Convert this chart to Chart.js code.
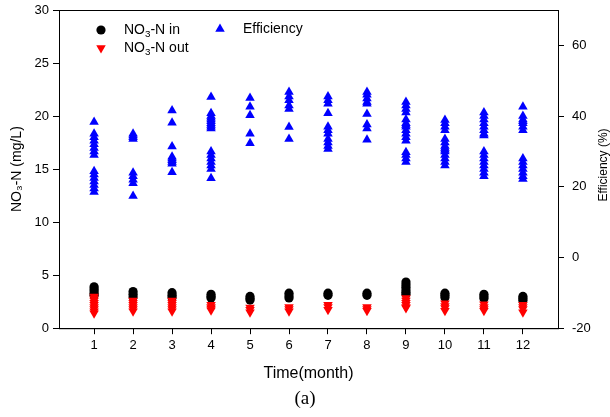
<!DOCTYPE html>
<html>
<head>
<meta charset="utf-8">
<script src="https://cdn.jsdelivr.net/npm/chart.js@4.4.0/dist/chart.umd.min.js"></script>
<style>
  html, body { margin: 0; padding: 0; background: #fff; }
</style>
</head>
<body>
<canvas id="nitrateChart" width="610" height="417"></canvas>
<script>
// ---- data ----
const months = [1, 2, 3, 4, 5, 6, 7, 8, 9, 10, 11, 12];

// NO3-N influent (mg/L), one list per month
const nitrateIn = [
    [3.9, 3.7, 3.5, 3.3, 3.1],
    [3.45, 3.2, 2.95],
    [3.35, 3.1, 2.9],
    [3.2, 3.0, 2.85],
    [3.0, 2.8, 2.65],
    [3.3, 3.05, 2.85],
    [3.3, 3.1],
    [3.3, 3.1],
    [4.35, 4.1, 3.85, 3.6, 3.4, 3.2],
    [3.3, 3.1, 2.9],
    [3.2, 3.0, 2.8],
    [3.0, 2.8, 2.6]
];

// NO3-N effluent (mg/L)
const nitrateOut = [
    [3.0, 2.8, 2.6, 2.4, 2.2, 2.0, 1.8, 1.6, 1.4],
    [2.6, 2.4, 2.2, 2.0, 1.8, 1.6],
    [2.6, 2.4, 2.2, 2.0, 1.8, 1.6],
    [2.2, 2.0, 1.85, 1.7],
    [1.95, 1.75, 1.5],
    [2.0, 1.8, 1.6],
    [2.2, 2.0, 1.75],
    [2.0, 1.8, 1.65],
    [2.85, 2.6, 2.4, 2.2, 2.0, 1.9],
    [2.35, 2.1, 1.9, 1.65],
    [2.25, 2.0, 1.8, 1.65],
    [2.2, 2.0, 1.8, 1.5]
];

// removal efficiency (%)
const efficiency = [
    [38.3, 35, 34, 33, 32, 31, 30, 29, 24.4, 23.5, 22.5, 21.5, 20.5, 19.5, 18.5],
    [35, 34.5, 34, 33.5, 24, 23, 22, 21, 17.4],
    [41.6, 38.1, 31.4, 28.5, 28, 27.5, 27, 26.5, 24.1],
    [45.4, 40.8, 40, 39.5, 39, 38.5, 38, 37.5, 37, 36.5, 30, 29, 28, 27, 26, 25, 22.4],
    [45.1, 42.6, 40.2, 35, 32.3],
    [46.8, 45.5, 44.5, 43, 42, 36.9, 33.5],
    [45.5, 44.5, 43.5, 40.8, 37, 36, 35, 33.5, 32.5, 31.5, 30.7],
    [46.8, 46, 45, 44, 43.5, 40.6, 37.6, 36.5, 33.3],
    [44, 43, 42, 41, 39, 38, 37.5, 37, 36, 35, 34, 33, 29.8, 29, 28, 27],
    [38.9, 38, 37, 36, 33.5, 32.5, 31.5, 31, 30.5, 30, 29, 28, 27, 26],
    [41, 40, 39, 38, 37, 36, 35, 34.5, 30, 29, 28, 27, 26, 25, 24, 23],
    [42.6, 40, 39, 38.5, 38, 37, 36, 28, 27, 26, 25, 24, 23, 22.2]
];

const leftTicks = [0, 5, 10, 15, 20, 25, 30];
const rightTicks = [-20, 0, 20, 40, 60];

const FONT = "'Liberation Sans', Arial, sans-serif";

function toPoints(groups) {
    let pts = [];
    groups.forEach((vals, i) => {
        vals.forEach(v => pts.push({ x: months[i], y: v }));
    });
    return pts;
}

// text with a subscript part, e.g. NO3
function drawRich(ctx, parts, x, y, size) {
    ctx.textBaseline = "middle";
    ctx.textAlign = "left";
    parts.forEach(p => {
        let s = p.sub ? size * 0.7 : size;
        ctx.font = s + "px " + FONT;
        ctx.fillText(p.t, x, p.sub ? y + size * 0.3 : y);
        x += ctx.measureText(p.t).width;
    });
}

// fixed axis box sizes, no extra label padding
function fixBox(size) {
    return axis => {
        if (axis.isHorizontal()) axis.height = size;
        else axis.width = size;
        axis.paddingTop = 0;
        axis.paddingBottom = 0;
        axis.paddingLeft = 0;
        axis.paddingRight = 0;
    };
}

// legend inside the plot + frame + right axis title
const extras = {
    id: "extras",
    afterDraw(chart) {
        let ctx = chart.ctx;
        let area = chart.chartArea;

        ctx.save();
        ctx.strokeStyle = "#000";
        ctx.lineWidth = 1;
        ctx.strokeRect(area.left + 0.5, area.top + 0.5, area.right - area.left, area.bottom - area.top);

        let items = [
            { ds: 1, x: 42, y: 20, parts: [{ t: "NO" }, { t: "3", sub: true }, { t: "-N in" }] },
            { ds: 0, x: 42, y: 38, parts: [{ t: "NO" }, { t: "3", sub: true }, { t: "-N out" }] },
            { ds: 2, x: 161, y: 19, parts: [{ t: "Efficiency" }] }
        ];
        items.forEach(it => {
            let ds = chart.data.datasets[it.ds];
            let px = area.left + it.x;
            let py = area.top + it.y;
            ctx.fillStyle = ds.backgroundColor;
            Chart.helpers.drawPoint(ctx, {
                pointStyle: ds.pointStyle,
                rotation: ds.rotation || 0,
                radius: ds.pointRadius,
                borderWidth: 0
            }, px, py);
            ctx.fillStyle = "#000";
            drawRich(ctx, it.parts, px + 23, py, 14);
        });

        // right axis title, read bottom to top
        ctx.translate(604, 165);
        ctx.rotate(-Math.PI / 2);
        ctx.fillStyle = "#000";
        ctx.font = "12px " + FONT;
        ctx.textAlign = "center";
        ctx.textBaseline = "middle";
        ctx.fillText("Efficiency (%)", 0, 0);
        ctx.restore();
    }
};

let ctx = document.getElementById("nitrateChart").getContext("2d");

let chart = new Chart(ctx, {
    type: "scatter",
    data: {
        datasets: [
            {
                label: "NO3-N out",
                data: toPoints(nitrateOut),
                yAxisID: "y",
                pointStyle: "triangle",
                rotation: 180,
                pointRadius: 5.5,
                pointBorderWidth: 0,
                backgroundColor: "#ff0000",
                order: 0
            },
            {
                label: "NO3-N in",
                data: toPoints(nitrateIn),
                yAxisID: "y",
                pointStyle: "circle",
                pointRadius: 4.6,
                pointBorderWidth: 0,
                backgroundColor: "#000000",
                order: 1
            },
            {
                label: "Efficiency",
                data: toPoints(efficiency),
                yAxisID: "y2",
                pointStyle: "triangle",
                pointRadius: 5.5,
                pointBorderWidth: 0,
                backgroundColor: "#0000ff",
                order: 2
            }
        ]
    },
    options: {
        responsive: false,
        animation: false,
        layout: {
            autoPadding: false,
            padding: { top: 10, left: 0, right: 0, bottom: 0 }
        },
        plugins: {
            legend: { display: false },
            tooltip: { enabled: false },
            title: {
                display: true,
                text: "(a)",
                position: "bottom",
                color: "#000",
                font: { family: "'Liberation Serif', 'Times New Roman', serif", size: 19, weight: "normal", lineHeight: 1.2 },
                padding: { top: 4, bottom: 7 }
            }
        },
        scales: {
            x: {
                type: "linear",
                min: 0.1,
                max: 12.9,
                afterBuildTicks: axis => { axis.ticks = months.map(m => ({ value: m })); },
                afterFit: fixBox(55),
                border: { display: true, color: "#000", width: 1 },
                grid: { display: true, drawOnChartArea: false, drawTicks: true, tickLength: 6, color: "#000" },
                ticks: { color: "#000", font: { family: FONT, size: 13 }, padding: 3, maxRotation: 0 },
                title: {
                    display: true,
                    text: "Time(month)",
                    color: "#000",
                    font: { family: FONT, size: 16, lineHeight: 1.2 },
                    padding: { top: 0, bottom: 0 }
                }
            },
            y: {
                position: "left",
                min: 0,
                max: 30,
                afterBuildTicks: axis => { axis.ticks = leftTicks.map(v => ({ value: v })); },
                afterFit: fixBox(59),
                border: { display: true, color: "#000", width: 1 },
                grid: { display: true, drawOnChartArea: false, drawTicks: true, tickLength: 6, color: "#000" },
                ticks: { color: "#000", font: { family: FONT, size: 13 }, padding: 4 },
                title: {
                    display: true,
                    text: "NO\u2083-N (mg/L)",
                    color: "#000",
                    font: { family: FONT, size: 14, lineHeight: 1 },
                    padding: { top: 10, bottom: 0 }
                }
            },
            y2: {
                position: "right",
                min: -20,
                max: 70,
                afterBuildTicks: axis => { axis.ticks = rightTicks.map(v => ({ value: v })); },
                afterFit: fixBox(52),
                border: { display: true, color: "#000", width: 1 },
                grid: { display: true, drawOnChartArea: false, drawTicks: true, tickLength: 6, color: "#000" },
                ticks: { color: "#000", font: { family: FONT, size: 13 }, padding: 8 }
            }
        }
    },
    plugins: [extras]
});
</script>
</body>
</html>
